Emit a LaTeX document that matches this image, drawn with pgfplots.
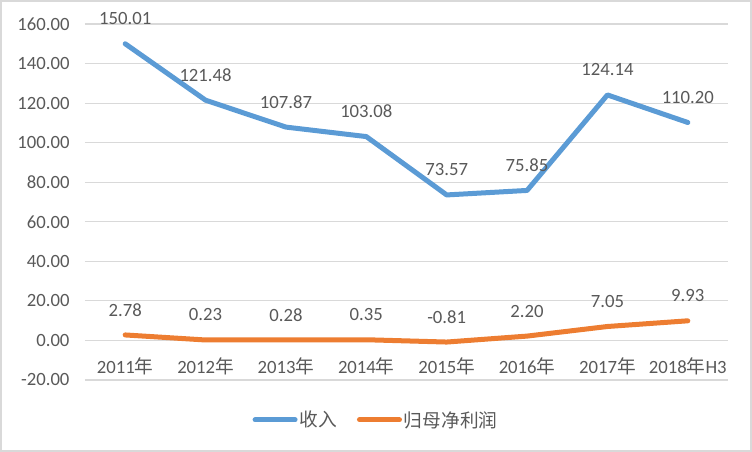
\documentclass[border=0pt]{standalone}
\usepackage{fontspec}
\setmainfont{Carlito}
\newfontfamily\cjk{Noto Sans CJK SC}
\usepackage{pgfplots}
\pgfplotsset{compat=1.18}

\definecolor{revblue}{HTML}{5B9BD5}
\definecolor{profitorange}{HTML}{ED7D31}
\definecolor{txtgray}{HTML}{595959}
\definecolor{gridgray}{HTML}{D9D9D9}

\newcommand{\lbl}{\fontsize{18.7bp}{22bp}\selectfont}

\begin{document}
\begin{tikzpicture}
\begin{axis}[
    scale only axis,
    width=643bp, height=356bp,
    xmin=-0.5, xmax=7.5,
    ymin=-20, ymax=160,
    ytick={-20,0,...,160},
    xtick={0,...,7},
    xticklabels={2011{\cjk 年},2012{\cjk 年},2013{\cjk 年},2014{\cjk 年},2015{\cjk 年},2016{\cjk 年},2017{\cjk 年},2018{\cjk 年}H3},
    axis line style={draw=none},
    major tick length=0pt,
    ymajorgrids,
    grid style={gridgray, line width=1.2bp},
    tick label style={font=\lbl, text=txtgray},
    yticklabel style={xshift=-12bp, /pgf/number format/fixed, /pgf/number format/fixed zerofill,
        /pgf/number format/precision=2, /pgf/number format/assume math mode=true},
    xticklabel style={anchor=center, yshift=14bp},
    nodes near coords,
    nodes near coords style={font=\lbl, text=txtgray, anchor=center, yshift=25bp,
        /pgf/number format/fixed, /pgf/number format/fixed zerofill,
        /pgf/number format/precision=2, /pgf/number format/assume math mode=true},
    clip=false,
    legend columns=2,
    legend style={draw=none, fill=none, at={(0.4526,-0.112)}, anchor=center,
        font=\lbl\cjk, text=txtgray,
        /tikz/every even column/.append style={column sep=18bp}},
    legend image code/.code={\draw[#1, line width=5bp, line cap=round] (0bp,0bp) -- (40bp,0bp);},
]
\addplot[revblue, line width=5bp, line join=round, line cap=round, mark=none] coordinates {
    (0,150.01) (1,121.48) (2,107.87) (3,103.08) (4,73.57) (5,75.85) (6,124.14) (7,110.20)
};
\addlegendentry{收入}
\addplot[profitorange, line width=5bp, line join=round, line cap=round, mark=none] coordinates {
    (0,2.78) (1,0.23) (2,0.28) (3,0.35) (4,-0.81) (5,2.20) (6,7.05) (7,9.93)
};
\addlegendentry{归母净利润}
\end{axis}
\path[use as bounding box] ([shift={(-85bp,-72bp)}]current axis.south west) rectangle ([shift={(24bp,24bp)}]current axis.north east);
\draw[gridgray, line width=1.5bp] ([shift={(-84bp,-71bp)}]current axis.south west) rectangle ([shift={(23bp,23bp)}]current axis.north east);
\end{tikzpicture}
\end{document}
